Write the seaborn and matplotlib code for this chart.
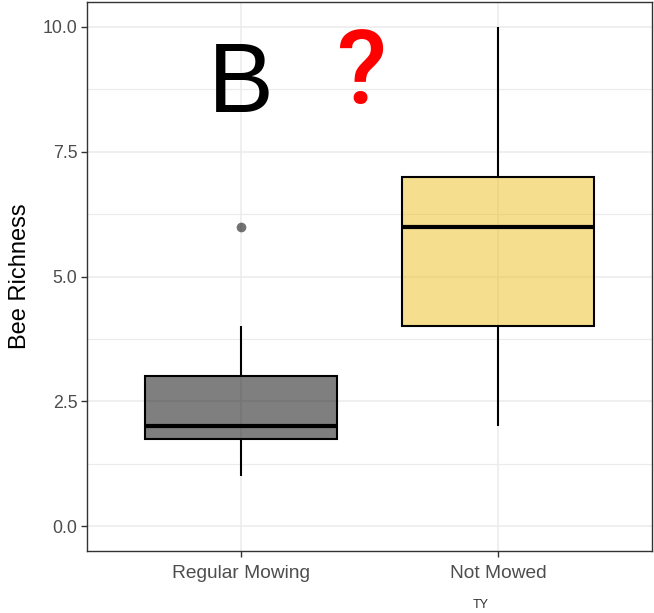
import matplotlib
matplotlib.use("Agg")
import matplotlib.pyplot as plt
import seaborn as sns
import pandas as pd
from matplotlib.ticker import MultipleLocator

categories = ["Regular Mowing", "Not Mowed"]
regular_mowing = [1, 1, 1, 2, 2, 2, 2, 2, 3, 3, 4, 6]
not_mowed = [2, 3, 4, 5, 6, 6, 7, 8, 10]
fill_colors = ["#000000", "#EDBF1D"]
yticks = [0.0, 2.5, 5.0, 7.5, 10.0]

df = pd.DataFrame({
    "Treatment": [categories[0]] * len(regular_mowing) + [categories[1]] * len(not_mowed),
    "Bee Richness": regular_mowing + not_mowed,
})

sns.set_theme(style="white")
plt.rcParams["font.family"] = ["Liberation Sans", "DejaVu Sans"]

fig = plt.figure(figsize=(6.54, 6.13), dpi=100)
ax = fig.add_axes([87 / 654, 1 - 551 / 613, (652 - 87) / 654, (551 - 2) / 613])

sns.boxplot(
    data=df, x="Treatment", y="Bee Richness", hue="Treatment",
    order=categories, hue_order=categories, palette=fill_colors, saturation=1,
    width=0.75, linecolor="black", linewidth=1.5, showcaps=False,
    legend=False, ax=ax,
    medianprops=dict(linewidth=3.0, color="black"),
    flierprops=dict(marker="o", markersize=7, markerfacecolor="#000000",
                    markeredgecolor="none", alpha=0.55),
)
for p in ax.patches:
    fc = p.get_facecolor()
    p.set_facecolor((fc[0], fc[1], fc[2], 0.5))

ax.set_xlim(-0.6, 1.6)
ax.set_ylim(-0.5, 10.5)
ax.set_yticks(yticks)
ax.set_yticklabels([f"{v:.1f}" for v in yticks])
ax.yaxis.set_minor_locator(MultipleLocator(1.25))
ax.set_axisbelow(True)
ax.grid(True, which="major", color="#EBEBEB", linewidth=1.1)
ax.grid(True, which="minor", axis="y", color="#EBEBEB", linewidth=0.8)
ax.set_facecolor("white")
for s in ax.spines.values():
    s.set_color("#333333")
    s.set_linewidth(1.0)

ax.tick_params(axis="both", which="major", length=4, width=1.0, color="#333333",
               labelcolor="#4D4D4D", direction="out", left=True, bottom=True)
ax.tick_params(axis="y", which="major", labelsize=12.8, pad=3)
ax.tick_params(axis="x", which="major", labelsize=13.8, pad=6)
ax.tick_params(axis="y", which="minor", length=0)
ax.set_xlabel("")
ax.set_ylabel("Bee Richness", fontsize=17, color="black", labelpad=8)

ax.text(0, 8.30, "B", fontsize=71, color="black", ha="center", va="baseline")
ax.text(0.469, 8.48, "?", fontsize=74, fontweight="medium", color="#FF0000",
        ha="center", va="baseline", family=["Roboto", "DejaVu Sans"])

fig.text(481 / 654, 2 / 613, "TY", fontsize=9, color="#333333",
         ha="center", va="bottom")

fig.savefig("out.png", dpi=100)
